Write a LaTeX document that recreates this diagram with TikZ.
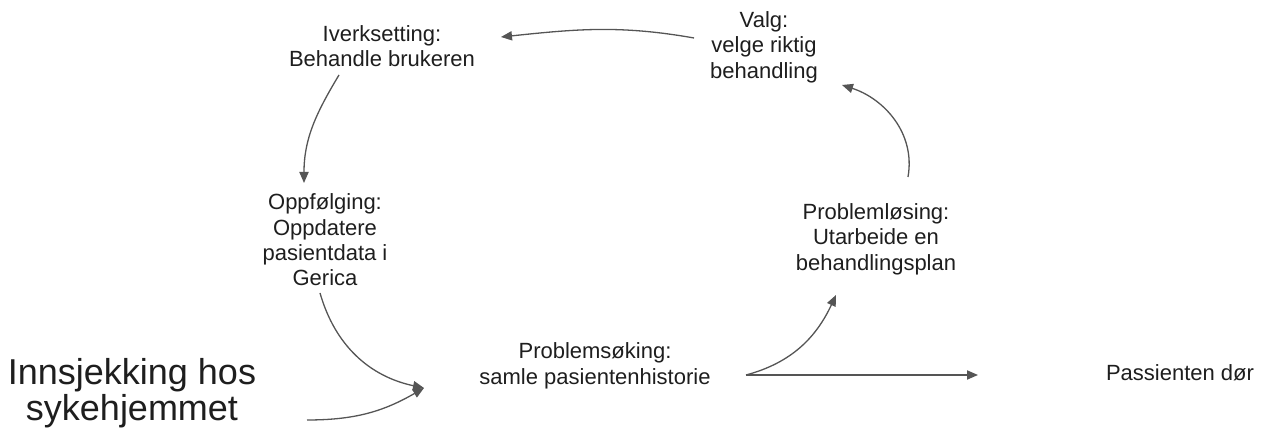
\documentclass[tikz,border=0pt]{standalone}
\usepackage{fontspec}
\setmainfont{Liberation Sans}
\usepackage{tikz}
\usetikzlibrary{arrows,arrows.meta,positioning}
\definecolor{linegray}{HTML}{555555}
\definecolor{textgray}{HTML}{1E1E1E}
\tikzset{x=0.5pt, y=0.5pt,   % one unit is one pixel of the 1266x432 picture
         phase/.style={      % Sets the properties for each stage text
           align=center,
           text=textgray,
           font=\fontsize{11}{12.7}\selectfont},
         entry/.style={      % Large text for the start
           align=center,
           text=textgray,
           font=\fontsize{18}{16.5}\selectfont},
         every edge/.style={ % Sets the properties for each transition
           draw,
           ->,>={Triangle[length=5.5pt,width=4.6pt]},
           color=linegray,
           line width=0.65pt}}

\begin{document}
\begin{tikzpicture}
\useasboundingbox (0,0) rectangle (1266,432);

\node[phase] (iverk)  at (382,386) {Iverksetting:\\Behandle brukeren};
\node[phase] (valg)   at (764,385) {Valg:\\velge riktig\\behandling};
\node[phase] (losing) at (876,193) {Problemløsing:\\Utarbeide en\\behandlingsplan};
\node[phase] (sok)    at (595,66)  {Problemsøking:\\samle pasientenhistorie};
\node[phase] (folg)   at (325,192) {Oppfølging:\\Oppdatere\\pasientdata i\\Gerica};
\node[entry] (inn)    at (132,39)  {Innsjekking hos\\sykehjemmet};
\node[phase] (dor)    at (1180,59) {Passienten dør};

\draw ([shift={(-70,9)}]valg.center) edge[out=170, in=6] ([shift={(119,9)}]iverk.center);
\draw ([shift={(-43,-29)}]iverk.center) edge[out=-121, in=90] ([shift={(-21,57)}]folg.center);
\draw ([shift={(-5,-53)}]folg.center) edge[out=-74, in=168] ([shift={(-171,-22)}]sok.center);
\draw ([shift={(175,-27)}]inn.center) edge[out=0, in=210] ([shift={(-171,-22)}]sok.center);

\draw ([shift={(151,-9)}]sok.center) edge[out=15, in=-115] ([shift={(-40,-56)}]losing.center);
\draw ([shift={(151,-9)}]sok.center) edge ([shift={(-202,-2)}]dor.center);
\draw ([shift={(32,62)}]losing.center) edge[out=80, in=-18] ([shift={(78,-38)}]valg.center);

\end{tikzpicture}
\end{document}
